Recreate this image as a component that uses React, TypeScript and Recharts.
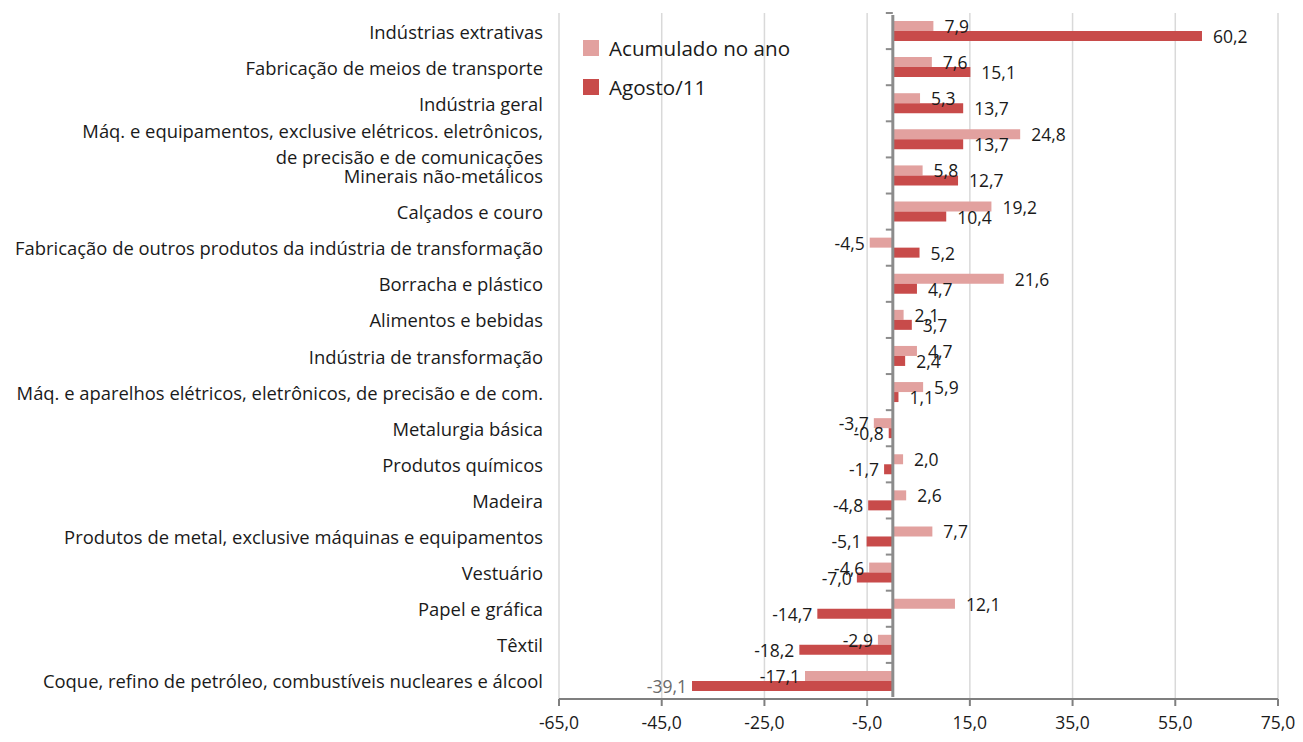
import React from 'react';
import {
  BarChart,
  Bar,
  XAxis,
  YAxis,
  CartesianGrid,
  LabelList,
  Legend,
  ReferenceLine,
} from 'recharts';

const categories = [
  'Indústrias extrativas',
  'Fabricação de meios de transporte',
  'Indústria geral',
  'Máq. e equipamentos, exclusive elétricos. eletrônicos,\nde precisão e de comunicações',
  'Minerais não-metálicos',
  'Calçados e couro',
  'Fabricação de outros produtos da indústria de transformação',
  'Borracha e plástico',
  'Alimentos e bebidas',
  'Indústria de transformação',
  'Máq. e aparelhos elétricos, eletrônicos, de precisão e de com.',
  'Metalurgia básica',
  'Produtos químicos',
  'Madeira',
  'Produtos de metal, exclusive máquinas e equipamentos',
  'Vestuário',
  'Papel e gráfica',
  'Têxtil',
  'Coque, refino de petróleo, combustíveis nucleares e álcool',
];

const acumuladoNoAno = [
  7.9, 7.6, 5.3, 24.8, 5.8, 19.2, -4.5, 21.6, 2.1, 4.7, 5.9, -3.7, 2.0, 2.6, 7.7, -4.6, 12.1, -2.9, -17.1,
];

const agosto11 = [
  60.2, 15.1, 13.7, 13.7, 12.7, 10.4, 5.2, 4.7, 3.7, 2.4, 1.1, -0.8, -1.7, -4.8, -5.1, -7.0, -14.7, -18.2, -39.1,
];

const xTicks = [-65, -45, -25, -5, 15, 35, 55, 75];

const seriesNames = ['Acumulado no ano', 'Agosto/11'];
const LIGHT = '#E2A19F';
const DARK = '#C84B4A';
const FONT = '"Open Sans", "Noto Sans", sans-serif';
const TXT = '#1a1a1a';

const data = categories.map((name, i) => ({
  name,
  acum: acumuladoNoAno[i],
  ago: agosto11[i],
}));

const fmt = (v: number) => v.toFixed(1).replace('.', ',');

const CategoryTick = (props: any) => {
  const { x, y, payload } = props;
  const lines = String(payload.value).split('\n');
  if (lines.length === 1) {
    return (
      <text x={x} y={y} textAnchor="end" dominantBaseline="central" fontSize={18.4} fill={TXT} fontFamily={FONT}>
        {lines[0]}
      </text>
    );
  }
  return (
    <text x={x} y={y} textAnchor="end" fontSize={18.4} fill={TXT} fontFamily={FONT} dominantBaseline="central">
      <tspan x={x} dy={-9}>{lines[0]}</tspan>
      <tspan x={x} dy={26}>{lines[1]}</tspan>
    </text>
  );
};

const makeLabel = (series: number[]) => (props: any) => {
  const { x, y, width, height, index } = props;
  const v = series[index];
  const a = Number(x);
  const b = Number(x) + Number(width);
  const cy = Number(y) + Number(height) / 2;
  const muted = series === agosto11 && index === series.length - 1;
  if (v >= 0) {
    return (
      <text x={Math.max(a, b) + 11} y={cy} textAnchor="start" dominantBaseline="central" fontSize={17.5} fill={TXT} fontFamily={FONT}>
        {fmt(v)}
      </text>
    );
  }
  return (
    <text x={Math.min(a, b) - 5} y={cy} textAnchor="end" dominantBaseline="central" fontSize={17.5} fill={muted ? '#6a6a6a' : TXT} fontFamily={FONT}>
      {fmt(v)}
    </text>
  );
};

const ZeroLine = (props: any) => {
  const { x1, y1, y2 } = props;
  const n = categories.length;
  const ticks = [];
  for (let i = 0; i <= n; i++) {
    const ty = y1 + ((y2 - y1) * i) / n;
    ticks.push(<line key={i} x1={x1 - 7} x2={x1} y1={ty} y2={ty} stroke="#8c8c8c" strokeWidth={2} />);
  }
  return (
    <g>
      <line x1={x1} x2={x1} y1={y1 - 2} y2={y2 + 2} stroke="#8c8c8c" strokeWidth={3} />
      {ticks}
    </g>
  );
};

const LegendContent = () => {
  const colors = [LIGHT, DARK];
  return (
    <div style={{ fontFamily: FONT }}>
      {seriesNames.map((n, i) => (
        <div key={n} style={{ display: 'flex', alignItems: 'center', height: 39 }}>
          <div style={{ width: 16, height: 16, background: colors[i], marginRight: 10 }} />
          <span style={{ fontSize: 20.6, color: TXT }}>{n}</span>
        </div>
      ))}
    </div>
  );
};

export default function App() {
  return (
    <div style={{ position: 'absolute', left: 0, top: 0, width: 1303, height: 742, background: '#fff' }}>
      <BarChart
        width={1303}
        height={742}
        data={data}
        layout="vertical"
        margin={{ top: 13, right: 25, bottom: 0, left: 0 }}
        barGap={0}
        barCategoryGap={16}
      >
        <CartesianGrid horizontal={false} stroke="#d9d9d9" strokeWidth={1.5} />
        <XAxis
          type="number"
          domain={[-65, 75]}
          ticks={xTicks}
          tickFormatter={fmt}
          height={43}
          axisLine={{ stroke: '#7f7f7f', strokeWidth: 2 }}
          tickLine={{ stroke: '#7f7f7f', strokeWidth: 2 }}
          tickSize={7}
          tickMargin={11}
          tick={{ fontSize: 17.5, fill: TXT, fontFamily: FONT }}
          interval={0}
        />
        <YAxis
          type="category"
          dataKey="name"
          width={559}
          axisLine={false}
          tickLine={false}
          tickSize={0}
          tickMargin={16}
          tick={<CategoryTick />}
          interval={0}
        />
        <Legend
          layout="horizontal"
          verticalAlign="middle"
          align="center"
          content={<LegendContent />}
          wrapperStyle={{ left: 583, top: 28, width: 260, height: 80 }}
        />
        <Bar dataKey="acum" name={seriesNames[0]} fill={LIGHT} barSize={10} isAnimationActive={false}>
          <LabelList dataKey="acum" content={makeLabel(acumuladoNoAno)} />
        </Bar>
        <Bar dataKey="ago" name={seriesNames[1]} fill={DARK} barSize={10} isAnimationActive={false}>
          <LabelList dataKey="ago" content={makeLabel(agosto11)} />
        </Bar>
        <ReferenceLine x={0} stroke="#8c8c8c" shape={<ZeroLine />} />
      </BarChart>
    </div>
  );
}
